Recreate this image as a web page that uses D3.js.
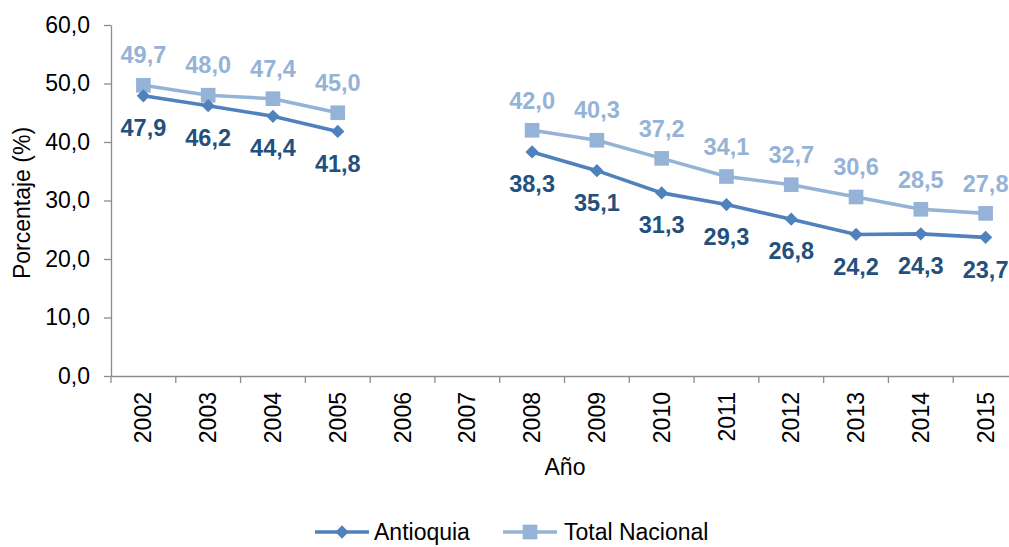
<!DOCTYPE html>
<html><head><meta charset="utf-8">
<script src="https://cdn.jsdelivr.net/npm/d3@7"></script>
<style>body{margin:0;background:#fff}svg{display:block;font-family:"Liberation Sans",Arial,sans-serif}</style>
</head><body><svg id="c" width="1009" height="547"></svg>
<script>
const years = ["2002","2003","2004","2005","2006","2007","2008","2009","2010","2011","2012","2013","2014","2015"];
const antioquia = [47.9,46.2,44.4,41.8,null,null,38.3,35.1,31.3,29.3,26.8,24.2,24.3,23.7];
const nacional = [49.7,48.0,47.4,45.0,null,null,42.0,40.3,37.2,34.1,32.7,30.6,28.5,27.8];
const yTicks = [0,10,20,30,40,50,60];
const seriesNames = ["Antioquia","Total Nacional"];

(function(){
const FF = "Liberation Sans, Arial, sans-serif";
const FS = 23;
const svg = d3.select("#c");
const mL = 111, mR = 1018, mT = 25, mB = 376;
const x = d3.scaleBand().domain(years).range([mL, mR]);
const y = d3.scaleLinear().domain([0,60]).range([mB, mT]);
const fmt = v => d3.format(".1f")(v).replace(".", ",");
const axisCol = "#8c8c8c";

// y axis
const ya = svg.append("g").attr("transform",`translate(${mL},0)`)
  .call(d3.axisLeft(y).tickValues(yTicks).tickFormat(fmt).tickSize(7).tickSizeOuter(0));
ya.select(".domain").attr("stroke",axisCol).attr("stroke-width",1.3);
ya.selectAll(".tick line").attr("stroke",axisCol).attr("stroke-width",1.3);
ya.selectAll(".tick text").attr("font-size",FS).attr("fill","#000").attr("x",-21)
  .attr("font-family",FF);

// x axis
const xa = svg.append("g").attr("transform",`translate(0,${mB})`)
  .call(d3.axisBottom(x).tickSize(0).tickSizeOuter(0));
xa.select(".domain").attr("stroke",axisCol).attr("stroke-width",1.3);
xa.selectAll(".tick text").attr("font-size",FS).attr("fill","#000")
  .attr("font-family",FF)
  .attr("transform","rotate(-90)").attr("text-anchor","end")
  .attr("x",-16).attr("y",0).attr("dy","0.35em");
// category boundary ticks
xa.selectAll(".bt").data(years.map((d,i)=>mL+i*x.step()).concat([mL+years.length*x.step()]))
  .enter().append("line").attr("x1",d=>d).attr("x2",d=>d).attr("y1",0).attr("y2",7)
  .attr("stroke",axisCol).attr("stroke-width",1.3);

// titles
svg.append("text").attr("transform","translate(22,203) rotate(-90)").attr("text-anchor","middle")
  .attr("font-size",FS).attr("fill","#000").attr("dy","0.35em").attr("font-family",FF).text("Porcentaje (%)");
svg.append("text").attr("x",565).attr("y",467).attr("text-anchor","middle")
  .attr("font-size",FS).attr("fill","#000").attr("dy","0.35em").attr("font-family",FF).text("Año");

const cx = i => x(years[i]) + x.bandwidth()/2;
const line = d3.line().defined(d=>d.v!=null).x(d=>cx(d.i)).y(d=>y(d.v));

const series = [
  {name:seriesNames[0], data:antioquia, color:"#4F81BD", label:"#23507E", marker:"diamond", off:32},
  {name:seriesNames[1], data:nacional, color:"#95B3D7", label:"#95B3D7", marker:"square", off:-30}
];
const diamond = d3.symbol().type(d3.symbolSquare).size(88);
const square = d3.symbol().type(d3.symbolSquare).size(215);
const mk = s => s.marker==="diamond"?diamond:square;
const rot = s => s.marker==="diamond"?" rotate(45)":"";

series.slice().reverse().forEach(s=>{
  const pts = s.data.map((v,i)=>({v,i}));
  svg.append("path").attr("d",line(pts)).attr("fill","none").attr("stroke",s.color).attr("stroke-width",3.6);
  svg.selectAll(null).data(pts.filter(d=>d.v!=null)).enter().append("path")
    .attr("d",mk(s)).attr("transform",d=>`translate(${cx(d.i)},${y(d.v)})${rot(s)}`).attr("fill",s.color);
  svg.selectAll(null).data(pts.filter(d=>d.v!=null)).enter().append("text")
    .attr("x",d=>cx(d.i)).attr("y",d=>y(d.v)+s.off).attr("dy","0.35em").attr("text-anchor","middle")
    .attr("font-size",23.5).attr("font-weight","bold").attr("font-family",FF).attr("fill",s.label).text(d=>fmt(d.v));
});

// legend
const lg = [{x0:315, tx:374},{x0:503, tx:564}];
series.forEach((s,k)=>{
  const g = svg.append("g");
  const ly = 532;
  g.append("line").attr("x1",lg[k].x0).attr("x2",lg[k].x0+54).attr("y1",ly).attr("y2",ly)
    .attr("stroke",s.color).attr("stroke-width",3.6);
  g.append("path").attr("d",mk(s))
    .attr("transform",`translate(${lg[k].x0+27},${ly})${rot(s)}`).attr("fill",s.color);
  g.append("text").attr("x",lg[k].tx).attr("y",ly).attr("dy","0.35em").attr("font-size",FS)
    .attr("font-family",FF).attr("fill","#000").text(s.name);
});
})();
</script></body></html>
